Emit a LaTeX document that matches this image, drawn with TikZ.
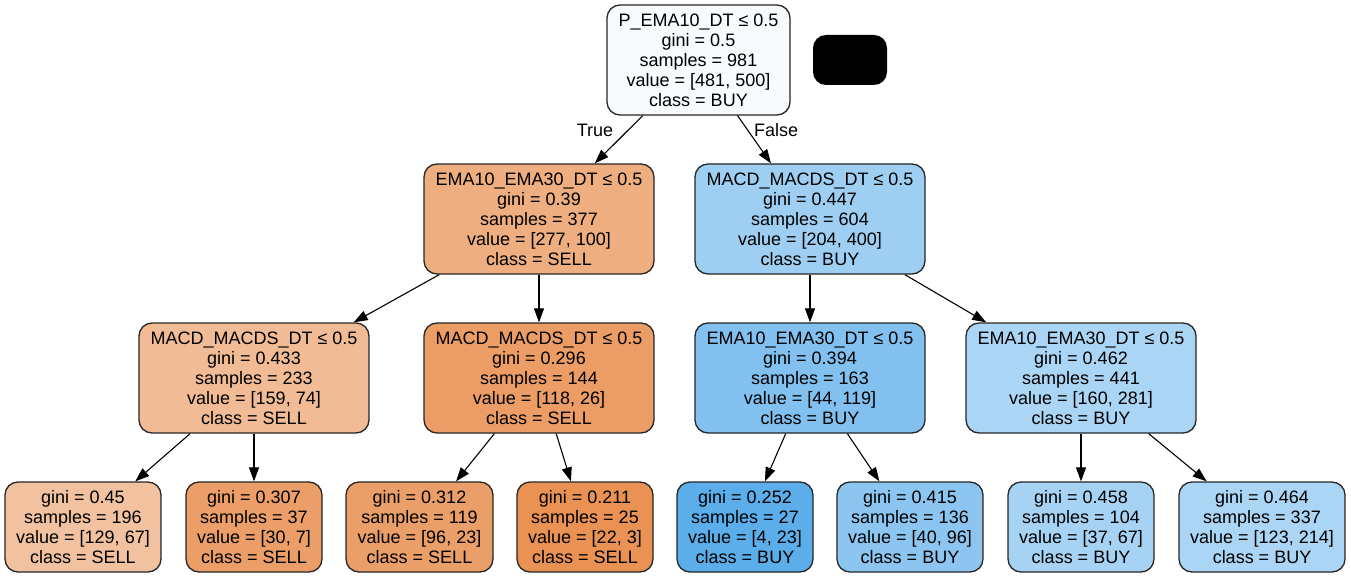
\documentclass[tikz,border=0pt]{standalone}
\usepackage{fontspec}
\setmainfont{Liberation Sans}
\usetikzlibrary{arrows.meta}
\definecolor{cRoot}{RGB}{248,251,254}
\definecolor{cLa}{RGB}{238,174,128}
\definecolor{cLb}{RGB}{158,207,242}
\definecolor{cMa}{RGB}{241,188,149}
\definecolor{cMb}{RGB}{235,157,101}
\definecolor{cMc}{RGB}{130,193,239}
\definecolor{cMd}{RGB}{170,213,244}
\definecolor{cF1}{RGB}{242,194,160}
\definecolor{cF2}{RGB}{235,158,103}
\definecolor{cF3}{RGB}{235,159,104}
\definecolor{cF4}{RGB}{233,146,84}
\definecolor{cF5}{RGB}{91,174,233}
\definecolor{cF6}{RGB}{140,198,240}
\definecolor{cF7}{RGB}{166,211,243}
\definecolor{cF8}{RGB}{171,213,244}
\begin{document}
\begin{tikzpicture}[x=1pt,y=-1pt,
  treenode/.style={draw=black!85,line width=1.3pt,rounded corners=13pt,align=center,inner sep=0pt,
     font=\fontsize{18}{20}\selectfont},
  split/.style={treenode,minimum width=230pt,minimum height=110pt},
  leaf/.style={treenode,minimum height=90pt},
  edge/.style={line width=1.1pt,-{Triangle[length=14pt,width=10pt]}},
  elabel/.style={font=\fontsize{18}{20}\selectfont,inner sep=0pt}]
\useasboundingbox (0,0) rectangle (1351,577);
\fill[white] (0,0) rectangle (1351,577);
\node[treenode,fill=cRoot,minimum width=183pt,minimum height=110pt] (root) at (698.5,60)
  {P\_EMA10\_DT ≤ 0.5\\gini = 0.5\\samples = 981\\value = [481, 500]\\class = BUY};
\node[fill=black,rounded corners=13pt,minimum width=74pt,minimum height=50pt,inner sep=0pt] (blk) at (850,60) {};
\node[split,fill=cLa] (la) at (539,219)
  {EMA10\_EMA30\_DT ≤ 0.5\\gini = 0.39\\samples = 377\\value = [277, 100]\\class = SELL};
\node[split,fill=cLb] (lb) at (810,219)
  {MACD\_MACDS\_DT ≤ 0.5\\gini = 0.447\\samples = 604\\value = [204, 400]\\class = BUY};
\node[split,fill=cMa] (ma) at (254,378)
  {MACD\_MACDS\_DT ≤ 0.5\\gini = 0.433\\samples = 233\\value = [159, 74]\\class = SELL};
\node[split,fill=cMb] (mb) at (539,378)
  {MACD\_MACDS\_DT ≤ 0.5\\gini = 0.296\\samples = 144\\value = [118, 26]\\class = SELL};
\node[split,fill=cMc] (mc) at (810,378)
  {EMA10\_EMA30\_DT ≤ 0.5\\gini = 0.394\\samples = 163\\value = [44, 119]\\class = BUY};
\node[split,fill=cMd] (md) at (1081,378)
  {EMA10\_EMA30\_DT ≤ 0.5\\gini = 0.462\\samples = 441\\value = [160, 281]\\class = BUY};
\node[leaf,fill=cF1,minimum width=156pt] (f1) at (83,527)
  {gini = 0.45\\samples = 196\\value = [129, 67]\\class = SELL};
\node[leaf,fill=cF2,minimum width=136pt] (f2) at (254,527)
  {gini = 0.307\\samples = 37\\value = [30, 7]\\class = SELL};
\node[leaf,fill=cF3,minimum width=147pt] (f3) at (419.5,527)
  {gini = 0.312\\samples = 119\\value = [96, 23]\\class = SELL};
\node[leaf,fill=cF4,minimum width=136pt] (f4) at (585,527)
  {gini = 0.211\\samples = 25\\value = [22, 3]\\class = SELL};
\node[leaf,fill=cF5,minimum width=136pt] (f5) at (745,527)
  {gini = 0.252\\samples = 27\\value = [4, 23]\\class = BUY};
\node[leaf,fill=cF6,minimum width=146pt] (f6) at (910,527)
  {gini = 0.415\\samples = 136\\value = [40, 96]\\class = BUY};
\node[leaf,fill=cF7,minimum width=146pt] (f7) at (1081,527)
  {gini = 0.458\\samples = 104\\value = [37, 67]\\class = BUY};
\node[leaf,fill=cF8,minimum width=166pt] (f8) at (1262,527)
  {gini = 0.464\\samples = 337\\value = [123, 214]\\class = BUY};
\draw[edge] (root) -- (la);
\draw[edge] (root) -- (lb);
\draw[edge] (la) -- (ma);
\draw[edge] (la) -- (mb);
\draw[edge] (lb) -- (mc);
\draw[edge] (lb) -- (md);
\draw[edge] (ma) -- (f1);
\draw[edge] (ma) -- (f2);
\draw[edge] (mb) -- (f3);
\draw[edge] (mb) -- (f4);
\draw[edge] (mc) -- (f5);
\draw[edge] (mc) -- (f6);
\draw[edge] (md) -- (f7);
\draw[edge] (md) -- (f8);
\node[elabel] (tl) at (595,130) {True};
\node[elabel] (fl) at (776,130) {False};
\end{tikzpicture}
\end{document}
